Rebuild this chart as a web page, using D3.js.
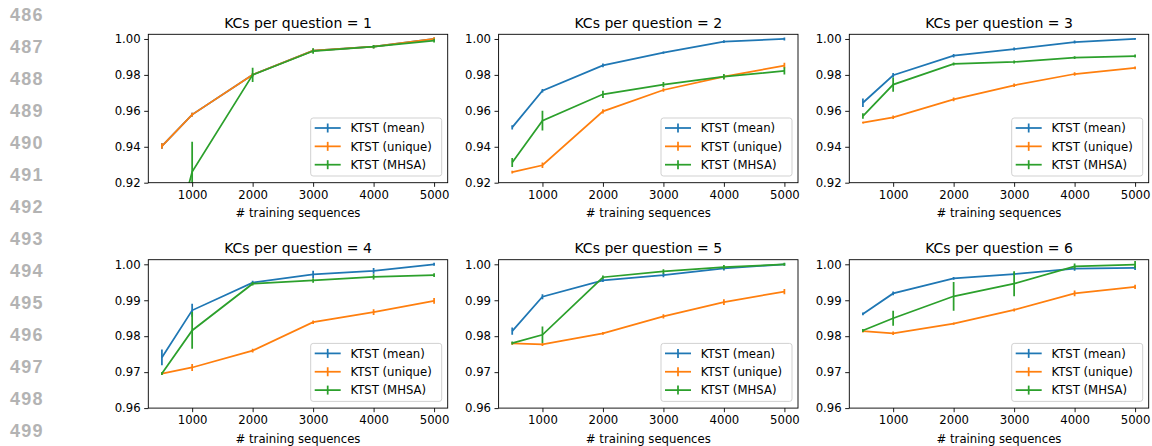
<!DOCTYPE html>
<html>
<head>
<meta charset="utf-8">
<script src="https://cdn.jsdelivr.net/npm/d3@7"></script>
<style>
  body { margin: 0; background: #fff; }
  text { font-family: "DejaVu Sans", sans-serif; }
</style>
</head>
<body>
<div class="chart"></div>
<script>
// training set sizes (x values) and panel settings
const trainSizes = [500, 1000, 2000, 3000, 4000, 5000];
const xTicks = [1000, 2000, 3000, 4000, 5000];
const kcValues = [1, 2, 3, 4, 5, 6];
const yTicksTop = [0.92, 0.94, 0.96, 0.98, 1.00];
const yTicksBottom = [0.96, 0.97, 0.98, 0.99, 1.00];
const lineNumbers = [486, 487, 488, 489, 490, 491, 492, 493, 494, 495, 496, 497, 498, 499];
const seriesNames = ["KTST (mean)", "KTST (unique)", "KTST (MHSA)"];

// values, one row per panel
const meanAcc = [
  [0.9404, 0.9579, 0.9801, 0.9935, 0.9957, 1.0000],
  [0.9508, 0.9712, 0.9853, 0.9924, 0.9985, 1.0000],
  [0.9645, 0.9798, 0.9907, 0.9944, 0.9983, 1.0000],
  [0.9741, 0.9872, 0.9949, 0.9972, 0.9982, 1.0000],
  [0.9814, 0.9910, 0.9955, 0.9970, 0.9989, 1.0000],
  [0.9862, 0.9919, 0.9961, 0.9973, 0.9988, 0.9990]
];
const meanErr = [
  [0.0015, 0.0010, 0.0010, 0.0010, 0.0008, 0.0008],
  [0.0012, 0.0010, 0.0010, 0.0006, 0.0008, 0.0008],
  [0.0024, 0.0012, 0.0010, 0.0008, 0.0008, 0.0005],
  [0.0022, 0.0018, 0.0005, 0.0010, 0.0008, 0.0004],
  [0.0010, 0.0007, 0.0004, 0.0006, 0.0006, 0.0003],
  [0.0004, 0.0005, 0.0004, 0.0004, 0.0006, 0.0006]
];
const uniqueAcc = [
  [0.9404, 0.9579, 0.9801, 0.9935, 0.9957, 1.0000],
  [0.9259, 0.9297, 0.9597, 0.9716, 0.9790, 0.9852],
  [0.9534, 0.9564, 0.9664, 0.9742, 0.9805, 0.9839],
  [0.9696, 0.9713, 0.9760, 0.9839, 0.9867, 0.9898],
  [0.9780, 0.9777, 0.9808, 0.9855, 0.9895, 0.9924],
  [0.9814, 0.9808, 0.9835, 0.9873, 0.9919, 0.9937]
];
const uniqueErr = [
  [0.0015, 0.0010, 0.0010, 0.0010, 0.0008, 0.0010],
  [0.0008, 0.0015, 0.0012, 0.0010, 0.0010, 0.0015],
  [0.0005, 0.0010, 0.0010, 0.0010, 0.0010, 0.0008],
  [0.0004, 0.0010, 0.0005, 0.0005, 0.0008, 0.0008],
  [0.0004, 0.0004, 0.0004, 0.0006, 0.0008, 0.0007],
  [0.0004, 0.0005, 0.0003, 0.0004, 0.0008, 0.0006]
];
const mhsaAcc = [
  [0.8620, 0.9261, 0.9800, 0.9933, 0.9957, 0.9991],
  [0.9313, 0.9545, 0.9692, 0.9746, 0.9790, 0.9822],
  [0.9571, 0.9746, 0.9861, 0.9872, 0.9896, 0.9905],
  [0.9696, 0.9816, 0.9946, 0.9955, 0.9965, 0.9970],
  [0.9781, 0.9804, 0.9964, 0.9980, 0.9992, 1.0000],
  [0.9816, 0.9850, 0.9911, 0.9946, 0.9994, 0.9999]
];
const mhsaErr = [
  [0.0020, 0.0167, 0.0040, 0.0015, 0.0010, 0.0010],
  [0.0025, 0.0055, 0.0020, 0.0015, 0.0015, 0.0020],
  [0.0015, 0.0040, 0.0008, 0.0008, 0.0008, 0.0008],
  [0.0004, 0.0051, 0.0005, 0.0006, 0.0007, 0.0005],
  [0.0004, 0.0023, 0.0005, 0.0006, 0.0006, 0.0004],
  [0.0004, 0.0021, 0.0040, 0.0035, 0.0008, 0.0010]
];

const colors = ["#1f77b4", "#ff7f0e", "#2ca02c"];

// layout of the 2x3 grid
const panelW = 299.4, panelH = 148.4;
const panelLefts = [148.3, 498.6, 849.3];
const panelTops = [34.3, 259.7];
const yDomains = [[0.92, 1.0026], [0.96, 1.00128]];
const fontSize = 11.7;

const svg = d3.select(".chart")
  .append("svg")
  .attr("width", 1152)
  .attr("height", 446);

// gray line numbers down the left margin
svg.selectAll(".lineno")
  .data(lineNumbers)
  .enter()
  .append("text")
  .attr("class", "lineno")
  .attr("x", 10)
  .attr("y", function (d, i) { return 21.4 + i * 32.0; })
  .style("font-family", "'Liberation Sans', Arial, sans-serif")
  .style("font-weight", "bold")
  .style("font-size", "18px")
  .style("letter-spacing", "1.2px")
  .style("fill", "#b3b3b3")
  .text(function (d) { return d; });

kcValues.forEach(function (kc, p) {
  const row = Math.floor(p / 3), col = p % 3;
  drawPanel(p, kc, panelLefts[col], panelTops[row], yDomains[row], row === 0 ? yTicksTop : yTicksBottom);
});

function drawPanel(p, kc, left, top, yDomain, yTicks) {
  const g = svg.append("g").attr("transform", "translate(" + left + "," + top + ")");

  const x = d3.scaleLinear().domain([275, 5225]).range([0, panelW]);
  const y = d3.scaleLinear().domain(yDomain).range([panelH, 0]);

  const clipId = "clip" + p;
  g.append("clipPath").attr("id", clipId)
    .append("rect").attr("width", panelW).attr("height", panelH);

  // axes
  const xAxis = g.append("g")
    .attr("transform", "translate(0," + panelH + ")")
    .call(d3.axisBottom(x).tickValues(xTicks).tickSize(4.1).tickPadding(3.5).tickFormat(d3.format("d")));
  const yAxis = g.append("g")
    .call(d3.axisLeft(y).tickValues(yTicks).tickSize(4.1).tickPadding(3.5).tickFormat(d3.format(".2f")));
  [xAxis, yAxis].forEach(function (a) {
    a.select(".domain").remove();
    a.selectAll("line").attr("stroke", "#000").attr("stroke-width", 0.9);
    a.selectAll("text")
      .style("font-family", "'DejaVu Sans', sans-serif")
      .style("font-size", fontSize + "px")
      .attr("fill", "#000");
  });

  // series
  const series = [
    { acc: meanAcc[p], err: meanErr[p] },
    { acc: uniqueAcc[p], err: uniqueErr[p] },
    { acc: mhsaAcc[p], err: mhsaErr[p] }
  ];
  const plot = g.append("g").attr("clip-path", "url(#" + clipId + ")");
  const line = d3.line()
    .x(function (d) { return x(d.x); })
    .y(function (d) { return y(d.v); });

  series.forEach(function (s, k) {
    const pts = trainSizes.map(function (t, i) { return { x: t, v: s.acc[i], e: s.err[i] }; });
    plot.append("path")
      .datum(pts)
      .attr("d", line)
      .attr("fill", "none")
      .attr("stroke", colors[k])
      .attr("stroke-width", 1.75);
    plot.selectAll(".err" + k)
      .data(pts)
      .enter()
      .append("line")
      .attr("x1", function (d) { return x(d.x); })
      .attr("x2", function (d) { return x(d.x); })
      .attr("y1", function (d) { return y(d.v - d.e); })
      .attr("y2", function (d) { return y(d.v + d.e); })
      .attr("stroke", colors[k])
      .attr("stroke-width", 1.75);
  });

  // frame
  g.append("rect")
    .attr("width", panelW)
    .attr("height", panelH)
    .attr("fill", "none")
    .attr("stroke", "#000")
    .attr("stroke-width", 0.9);

  // title and x label
  g.append("text")
    .attr("x", panelW / 2)
    .attr("y", -6.3)
    .attr("text-anchor", "middle")
    .style("font-size", "14px")
    .text("KCs per question = " + kc);
  g.append("text")
    .attr("x", panelW / 2)
    .attr("y", panelH + 34.6)
    .attr("text-anchor", "middle")
    .style("font-size", fontSize + "px")
    .text("# training sequences");

  drawLegend(g);
}

function drawLegend(g) {
  const boxW = 131, boxH = 58;
  const bx = panelW - 6 - boxW, by = panelH - 6.7 - boxH;
  const legend = g.append("g").attr("transform", "translate(" + bx + "," + by + ")");
  legend.append("rect")
    .attr("width", boxW)
    .attr("height", boxH)
    .attr("rx", 2.5)
    .attr("fill", "rgba(255,255,255,0.8)")
    .attr("stroke", "#cccccc")
    .attr("stroke-width", 0.9);

  const items = legend.selectAll(".legend-item")
    .data(seriesNames)
    .enter()
    .append("g")
    .attr("transform", function (d, i) { return "translate(0," + (10 + i * 18.35) + ")"; });
  items.append("line")
    .attr("x1", 4).attr("x2", 30)
    .attr("stroke", function (d, i) { return colors[i]; })
    .attr("stroke-width", 1.75);
  items.append("line")
    .attr("x1", 17).attr("x2", 17)
    .attr("y1", -4.5).attr("y2", 4.5)
    .attr("stroke", function (d, i) { return colors[i]; })
    .attr("stroke-width", 1.75);
  items.append("text")
    .attr("x", 39.7)
    .attr("dy", "0.36em")
    .style("font-size", fontSize + "px")
    .text(function (d) { return d; });
}
</script>
</body>
</html>
